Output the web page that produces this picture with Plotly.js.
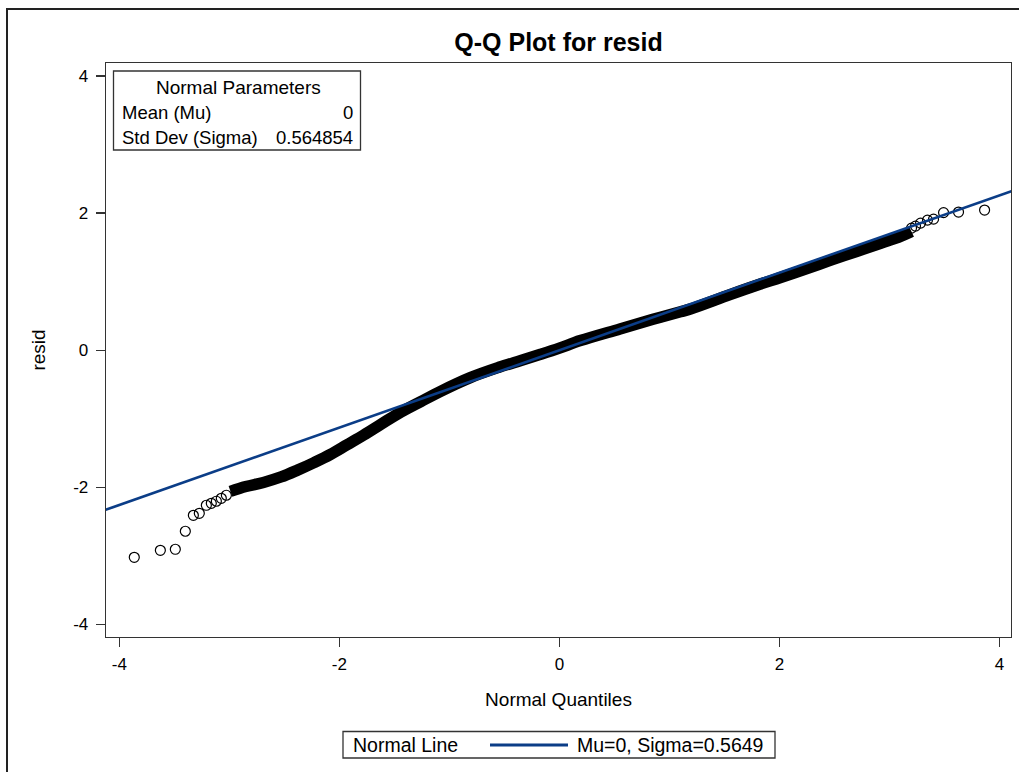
<!DOCTYPE html>
<html>
<head>
<meta charset="utf-8">
<script src="https://cdn.plot.ly/plotly-3.0.1.min.js"></script>
<style>
  html, body { margin: 0; padding: 0; background: #fff; }
  #chart { width: 1019px; height: 772px; }
</style>
</head>
<body>
<div id="chart"></div>
<script>
// ---- Data ----
// Sparse lower tail of the Q-Q plot (normal quantile, residual)
const lowerTailX = [-3.864, -3.627, -3.491, -3.400, -3.327, -3.273, -3.209, -3.164, -3.118, -3.073, -3.027];
const lowerTailY = [-3.022, -2.920, -2.905, -2.642, -2.409, -2.380, -2.263, -2.234, -2.204, -2.161, -2.117];

// Dense central band of points (normal quantile, residual)
const bandX = [-2.99, -2.85, -2.69, -2.53, -2.38, -2.23, -2.08, -1.93, -1.78, -1.62, -1.47, -1.26, -1.08, -0.81, -0.55, -0.35, -0.17, 0.00, 0.19, 0.55, 0.85, 1.10, 1.19, 1.55, 1.80, 2.01, 2.25, 2.46, 2.70, 2.92, 3.10, 3.20];
const bandY = [-2.06, -1.99, -1.93, -1.85, -1.75, -1.64, -1.52, -1.38, -1.24, -1.08, -0.93, -0.75, -0.60, -0.40, -0.25, -0.15, -0.06, 0.03, 0.14, 0.31, 0.45, 0.56, 0.60, 0.81, 0.95, 1.06, 1.19, 1.31, 1.44, 1.56, 1.66, 1.73];

// Sparse upper tail
const upperTailX = [3.200, 3.236, 3.282, 3.345, 3.400, 3.491, 3.627, 3.864];
const upperTailY = [1.781, 1.810, 1.854, 1.898, 1.912, 2.007, 2.015, 2.044];

// Normal parameters
const paramLabels = ['Mean (Mu)', 'Std Dev (Sigma)'];
const paramValues = ['0', '0.564854'];
const mu = 0;
const sigma = 0.564854;
const legendLabel = 'Normal Line';
const legendEntry = 'Mu=0, Sigma=0.5649';

// Axis ticks
const xTicks = [-4, -2, 0, 2, 4];
const yTicks = [-4, -2, 0, 2, 4];

// ---- Normal reference line from the parameters ----
const lineX = [-4.3, 4.3];
const lineY = lineX.map(v => mu + sigma * v);

const FONT = 'Liberation Sans, Arial, Helvetica, sans-serif';
const tailX = lowerTailX.concat(upperTailX);
const tailY = lowerTailY.concat(upperTailY);

const traces = [
  {
    x: bandX, y: bandY, type: 'scatter', mode: 'lines',
    line: { color: '#000', width: 11.5, shape: 'spline', smoothing: 1 },
    hoverinfo: 'skip'
  },
  {
    x: tailX, y: tailY, type: 'scatter', mode: 'markers',
    marker: { symbol: 'circle-open', size: 10, color: '#000', line: { width: 1.2 } },
    hoverinfo: 'skip'
  },
  {
    x: lineX, y: lineY, type: 'scatter', mode: 'lines',
    line: { color: '#0b3d87', width: 2.6 },
    name: legendEntry, hoverinfo: 'skip'
  }
];

// Pixel helpers for decorations (plot area: left 106, right 1011, top 63, bottom 637)
const PL = 106, PR = 1011, PT = 63, PB = 637;
const px = v => (v - PL) / (PR - PL);
const py = v => (PB - v) / (PB - PT);

const annotations = [
  { text: 'Normal Parameters', x: px(238), y: py(88), xref: 'paper', yref: 'paper',
    xanchor: 'center', yanchor: 'middle', showarrow: false, font: { family: FONT, size: 19, color: '#000' } },
  { text: paramLabels[0], x: px(120), y: py(113), xref: 'paper', yref: 'paper',
    xanchor: 'left', yanchor: 'middle', showarrow: false, font: { family: FONT, size: 18.5, color: '#000' } },
  { text: paramValues[0], x: px(355), y: py(113), xref: 'paper', yref: 'paper',
    xanchor: 'right', yanchor: 'middle', showarrow: false, font: { family: FONT, size: 18.5, color: '#000' } },
  { text: paramLabels[1], x: px(120), y: py(137), xref: 'paper', yref: 'paper',
    xanchor: 'left', yanchor: 'middle', showarrow: false, font: { family: FONT, size: 18.5, color: '#000' } },
  { text: paramValues[1], x: px(355), y: py(137), xref: 'paper', yref: 'paper',
    xanchor: 'right', yanchor: 'middle', showarrow: false, font: { family: FONT, size: 18.5, color: '#000' } },
  { text: legendLabel, x: px(351), y: py(745), xref: 'paper', yref: 'paper',
    xanchor: 'left', yanchor: 'middle', showarrow: false, font: { family: FONT, size: 19.5, color: '#000' } },
  { text: legendEntry, x: px(765), y: py(745), xref: 'paper', yref: 'paper',
    xanchor: 'right', yanchor: 'middle', showarrow: false, font: { family: FONT, size: 19.5, color: '#000' } }
];

const shapes = [
  // outer frame (left and top edges)
  { type: 'line', xref: 'paper', yref: 'paper', x0: px(7), x1: px(7), y0: py(8), y1: py(780), line: { color: '#222', width: 2 } },
  { type: 'line', xref: 'paper', yref: 'paper', x0: px(6), x1: px(1030), y0: py(9), y1: py(9), line: { color: '#222', width: 2 } },
  // inset box
  { type: 'rect', xref: 'paper', yref: 'paper', x0: px(113.5), x1: px(360.5), y0: py(150), y1: py(71),
    line: { color: '#333', width: 1.3 }, fillcolor: 'rgba(255,255,255,0)' },
  // legend box
  { type: 'rect', xref: 'paper', yref: 'paper', x0: px(343), x1: px(775), y0: py(758), y1: py(731.5),
    line: { color: '#333', width: 1.3 }, fillcolor: 'rgba(255,255,255,0)' },
  // legend line sample
  { type: 'line', xref: 'paper', yref: 'paper', x0: px(490), x1: px(568), y0: py(745), y1: py(745),
    line: { color: '#0b3d87', width: 3 } }
];

const layout = {
  width: 1019, height: 772,
  margin: { l: PL, r: 1019 - PR, t: PT, b: 772 - PB, pad: 0 },
  paper_bgcolor: '#fff', plot_bgcolor: '#fff',
  showlegend: false,
  hovermode: false,
  font: { family: FONT, color: '#000' },
  title: {
    text: '<b>Q-Q Plot for resid</b>',
    font: { family: FONT, size: 25, color: '#000' },
    x: 0.5, xref: 'paper', xanchor: 'center',
    y: 1 - 42 / 772, yref: 'container', yanchor: 'middle'
  },
  xaxis: {
    range: [-4.121, 4.104], tickvals: xTicks, ticktext: xTicks.map(String),
    ticks: 'outside', ticklen: 9, tickwidth: 1.3, tickcolor: '#333',
    ticklabelstandoff: 2,
    showline: true, linecolor: '#333', linewidth: 1.3, mirror: true,
    showgrid: false, zeroline: false,
    tickfont: { family: FONT, size: 17, color: '#000' },
    title: { text: 'Normal Quantiles', font: { family: FONT, size: 19, color: '#000' }, standoff: 20 },
    automargin: false
  },
  yaxis: {
    range: [-4.185, 4.19], tickvals: yTicks, ticktext: yTicks.map(String),
    ticks: 'outside', ticklen: 9, tickwidth: 1.3, tickcolor: '#333',
    ticklabelstandoff: 4,
    showline: true, linecolor: '#333', linewidth: 1.3, mirror: true,
    showgrid: false, zeroline: false,
    tickfont: { family: FONT, size: 17, color: '#000' },
    title: { text: 'resid', font: { family: FONT, size: 19, color: '#000' }, standoff: 22 },
    automargin: false
  },
  annotations: annotations,
  shapes: shapes
};

Plotly.newPlot('chart', traces, layout, { displayModeBar: false, staticPlot: true });
</script>
</body>
</html>
